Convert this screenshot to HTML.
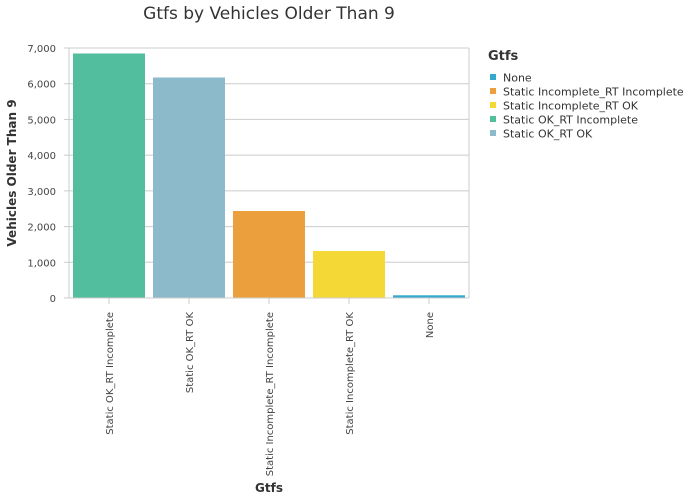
<!DOCTYPE html>
<html><head><meta charset="utf-8"><style>
body{margin:0;background:#fff;font-family:"Liberation Sans","DejaVu Sans",sans-serif;}
</style></head><body>
<svg width="690" height="499" style="font-family:'DejaVu Sans','Liberation Sans',sans-serif">
<text x="269" y="19" text-anchor="middle" font-size="17" fill="#333">Gtfs by Vehicles Older Than 9</text>
<g id="grid"></g>
<g id="bars"></g>
<g id="yaxis"></g>
<g id="xaxis"></g>
<text transform="translate(16,173) rotate(-90)" text-anchor="middle" font-size="12" font-weight="bold" fill="#333">Vehicles Older Than 9</text>
<text x="269" y="492" text-anchor="middle" font-size="12" font-weight="bold" fill="#333">Gtfs</text>
<g id="legend"><text x="488" y="60" font-size="13" font-weight="bold" fill="#333">Gtfs</text></g>
</svg>
<script>
const categories=["Static OK_RT Incomplete","Static OK_RT OK","Static Incomplete_RT Incomplete","Static Incomplete_RT OK","None"];
const values=[6846,6174,2436,1316,76];
const colors=["#52be9e","#8cbacb","#eb9f3d","#f4d836","#33a9cb"];
const yTicks=[0,1000,2000,3000,4000,5000,6000,7000];
const legendItems=["None","Static Incomplete_RT Incomplete","Static Incomplete_RT OK","Static OK_RT Incomplete","Static OK_RT OK"];
const legendColors=["#33a9cb","#eb9f3d","#f4d836","#52be9e","#8cbacb"];
const NS="http://www.w3.org/2000/svg";
const X0=69,X1=469,Y0=298,Y1=48,YMAX=7000;
const y=v=>Y0-(v/YMAX)*(Y0-Y1);
const band=(X1-X0)/categories.length;
const x=i=>X0+i*band;
function mk(t,a,p){const e=document.createElementNS(NS,t);for(const k in a)e.setAttribute(k,a[k]);p.appendChild(e);return e;}
const g=document.getElementById('grid'),b=document.getElementById('bars'),ya=document.getElementById('yaxis'),xa=document.getElementById('xaxis'),lg=document.getElementById('legend');
yTicks.forEach(t=>{
 const l=mk('line',{x1:X0,x2:X1,y1:y(t),y2:y(t),stroke:'#ccc','stroke-width':1},g);
 
 
 const tk=mk('line',{x1:X0-5,x2:X0,y1:y(t),y2:y(t),stroke:'#ccc'},ya);
 
 
 const tx=mk('text',{x:X0-13,y:y(t)+4,'text-anchor':'end','font-size':10,fill:'#444'},ya);
 tx.textContent=t.toLocaleString('en-US');
 
 
});
const rv=mk('line',{x1:X1,x2:X1,y1:Y1,y2:Y0,stroke:'#ccc'},g);


const lv=mk('line',{x1:X0,x2:X0,y1:Y1,y2:Y0,stroke:'#ccc'},ya);


categories.forEach((c,i)=>{
 const pad=band*0.05;
 const r=mk('rect',{x:x(i)+pad,y:y(values[i]),width:band-2*pad,height:Y0-y(values[i]),fill:colors[i]},b);
 
 
 const cx=x(i)+band/2;
 const tk=mk('line',{x1:cx,x2:cx,y1:Y0,y2:Y0+6,stroke:'#ccc'},xa);
 
 
 const tx=mk('text',{transform:`translate(${cx+4},${Y0+14}) rotate(-90)`,'text-anchor':'end','font-size':10,fill:'#444'},xa);
 tx.textContent=c;
 
 
});
const xl=mk('line',{x1:X0,x2:X1,y1:Y0,y2:Y0,stroke:'#ccc'},xa);


legendItems.forEach((n,i)=>{
 const yy=78+i*14;
 const s=mk('rect',{x:490,y:yy-4,width:6,height:6,fill:legendColors[i]},lg);
 
 
 const t=mk('text',{x:503,y:yy+3.5,'font-size':11,fill:'#333'},lg);
 t.textContent=n;
 
 
});
</script>
</body></html>
